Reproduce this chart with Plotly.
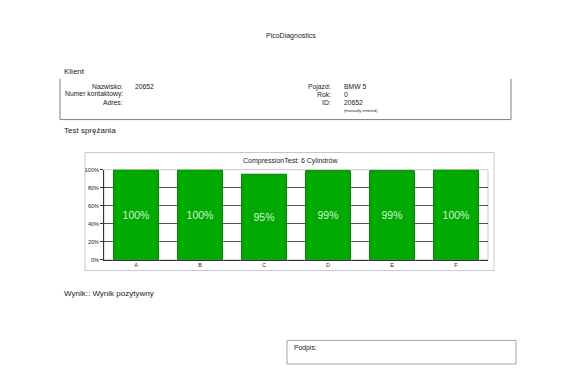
import plotly.graph_objects as go

W, H = 581, 369

cylinders = ["A", "B", "C", "D", "E", "F"]
compression = [100, 100, 95, 99, 99, 100]
y_ticks = [0, 20, 40, 60, 80, 100]
y_tick_labels = ["0%", "20%", "40%", "60%", "80%", "100%"]

FONT = "Liberation Sans, Arial, sans-serif"


def px(x):
    return x / W


def py(y):
    return 1 - y / H


fig = go.Figure()
fig.add_trace(go.Bar(
    x=cylinders,
    y=compression,
    width=0.7,
    marker=dict(color="#00aa00", line=dict(color="#007a00", width=1)),
    text=[f"{v}%" for v in compression],
    textposition="inside",
    insidetextanchor="middle",
    textangle=0,
    textfont=dict(color="#d2f2d2", size=10.5, family=FONT),
    hoverinfo="skip",
))

plot_l, plot_r, plot_t, plot_b = 104, 488, 169.5, 261

shapes = []
# chart border box
shapes.append(dict(type="rect", xref="paper", yref="paper",
                   x0=px(85), x1=px(494), y0=py(272), y1=py(152),
                   line=dict(color="#c8c8c8", width=1), layer="below"))
# plot frame (light)
shapes.append(dict(type="rect", xref="paper", yref="paper",
                   x0=px(plot_l), x1=px(plot_r), y0=py(plot_b), y1=py(plot_t),
                   line=dict(color="#c8c8c8", width=1), layer="below"))
# Klient box (sides + bottom)
shapes.append(dict(type="path", xref="paper", yref="paper",
                   path=f"M {px(60)} {py(77)} L {px(60)} {py(118.5)} L {px(511)} {py(118.5)} L {px(511)} {py(77)}",
                   line=dict(color="#808080", width=1)))
# Podpis box
shapes.append(dict(type="rect", xref="paper", yref="paper",
                   x0=px(287), x1=px(516), y0=py(367), y1=py(343),
                   line=dict(color="#a0a0a0", width=1)))

annotations = []


def txt(text, x, y, size, anchor="left", color="#222"):
    annotations.append(dict(text=text, x=px(x), y=py(y), xref="paper", yref="paper",
                            showarrow=False, xanchor=anchor, yanchor="middle",
                            font=dict(size=size, family=FONT, color=color)))


txt("PicoDiagnostics", 290.5, 34, 7, "center")
txt("Klient", 62, 70, 8)
txt("Nazwisko:", 125, 85, 6.8, "right")
txt("Numer kontaktowy:", 125, 93, 6.8, "right")
txt("Adres:", 125, 101, 6.8, "right")
txt("20652", 133, 85, 6.8)
txt("Pojazd:", 333, 85, 6.8, "right")
txt("Rok:", 333, 93, 6.8, "right")
txt("ID:", 333, 101, 6.8, "right")
txt("BMW 5", 342, 85, 6.8)
txt("0", 342, 93, 6.8)
txt("20652", 342, 101, 6.8)
txt("(manually entered)", 342, 109, 4)
txt("Test sprężania", 62, 130, 8)
txt("CompressionTest: 6 Cylindrów", 290, 161, 7, "center")
txt("Wynik:: Wynik pozytywny", 62, 295, 8)
txt("Podpis:", 292, 351, 6.8)

fig.update_layout(
    width=W, height=H,
    margin=dict(l=0, r=0, t=0, b=0),
    paper_bgcolor="white", plot_bgcolor="white",
    showlegend=False,
    shapes=shapes,
    annotations=annotations,
    bargap=0.3,
    uniformtext=dict(minsize=6, mode="show"),
    xaxis=dict(domain=[px(plot_l), px(plot_r)], showgrid=False,
               showline=True, linecolor="#333", linewidth=1,
               ticks="", tickfont=dict(size=5.5, family=FONT, color="#222"),
               fixedrange=True),
    yaxis=dict(domain=[py(plot_b), py(plot_t)], range=[0, 100],
               tickvals=y_ticks, ticktext=y_tick_labels,
               showgrid=True, gridcolor="#555", gridwidth=1,
               showline=True, linecolor="#333", linewidth=1,
               ticks="outside", ticklen=3, tickcolor="#333",
               tickfont=dict(size=5.5, family=FONT, color="#222"),
               zeroline=False, fixedrange=True),
)

fig.write_html("out.html")
